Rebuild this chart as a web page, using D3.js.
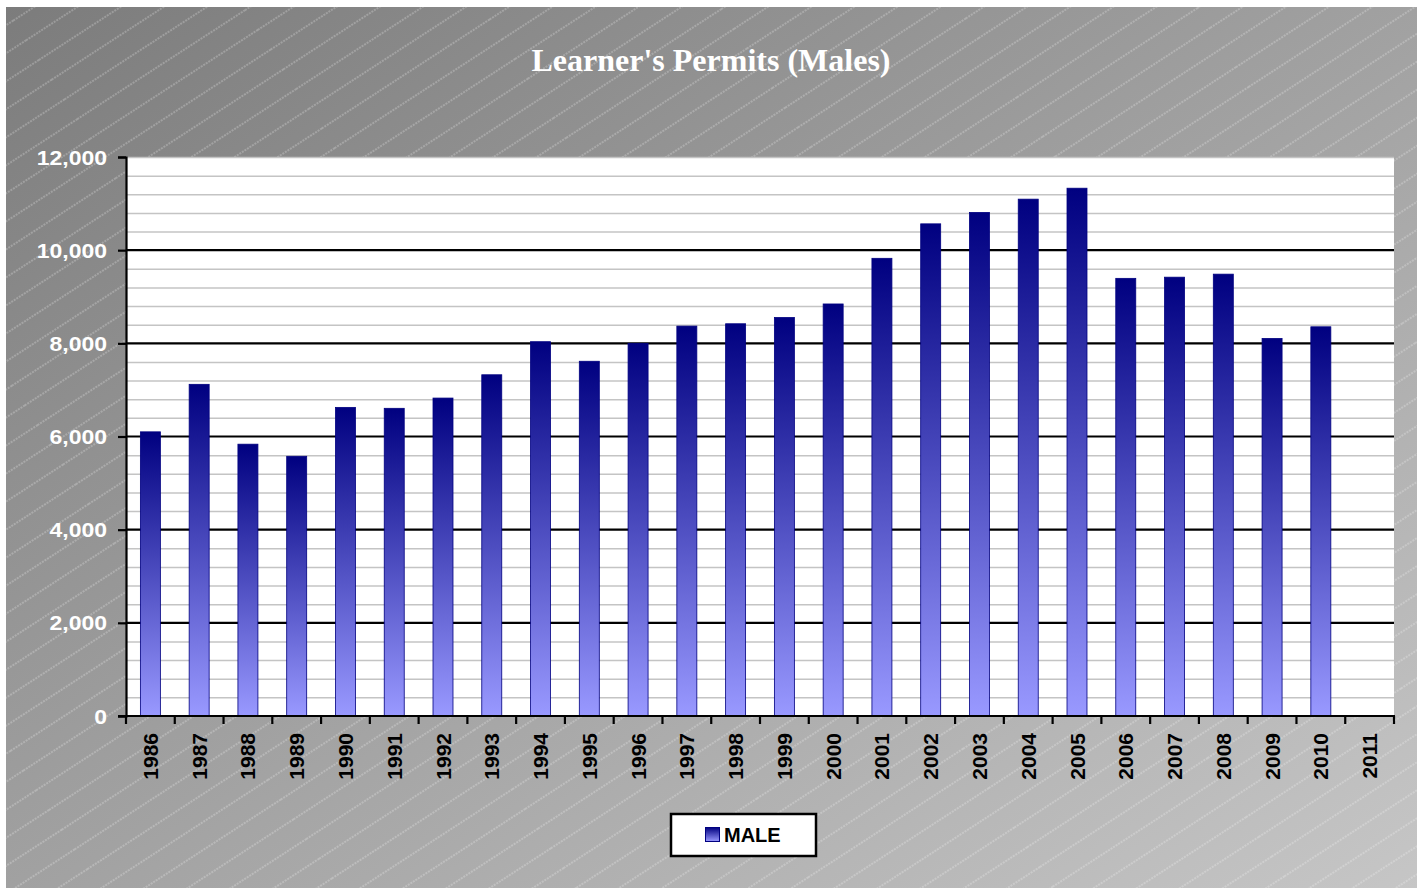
<!DOCTYPE html>
<html>
<head>
<meta charset="utf-8">
<script src="https://cdn.jsdelivr.net/npm/d3@7"></script>
<style>
  body { margin: 0; background: #fff; }
  svg { display: block; }
</style>
</head>
<body>
<script>
var years = ["1986", "1987", "1988", "1989", "1990", "1991", "1992", "1993", "1994",
  "1995", "1996", "1997", "1998", "1999", "2000", "2001", "2002", "2003", "2004",
  "2005", "2006", "2007", "2008", "2009", "2010", "2011"];
var male = [6100, 7120, 5835, 5575, 6625, 6605, 6825, 7325, 8035,
  7615, 8000, 8370, 8420, 8555, 8845, 9825, 10565, 10810, 11095,
  11330, 9395, 9420, 9485, 8105, 8355, null];
var yTicks = [0, 2000, 4000, 6000, 8000, 10000, 12000];
var seriesName = "MALE";
var title = "Learner's Permits (Males)";

var w = 1424, h = 888;
var plotLeft = 126, plotRight = 1394, plotTop = 157, plotBottom = 716;

var svg = d3.select("body").append("svg")
    .attr("width", w)
    .attr("height", h);

var defs = svg.append("defs");

var bg = defs.append("linearGradient")
    .attr("id", "bg")
    .attr("x1", 0).attr("y1", 0).attr("x2", 1).attr("y2", 1);
bg.append("stop").attr("offset", "0%").attr("stop-color", "#7c7c7c");
bg.append("stop").attr("offset", "100%").attr("stop-color", "#c6c6c6");

var pat = defs.append("pattern")
    .attr("id", "hatch")
    .attr("patternUnits", "userSpaceOnUse")
    .attr("width", 200).attr("height", 23.5)
    .attr("patternTransform", "rotate(-33)");
pat.append("line")
    .attr("x1", 0).attr("y1", 1).attr("x2", 200).attr("y2", 1)
    .attr("stroke", "#ffffff")
    .attr("stroke-opacity", 0.45)
    .attr("stroke-width", 1)
    .attr("stroke-dasharray", "2,1");

var barGrad = defs.append("linearGradient")
    .attr("id", "bar")
    .attr("x1", 0).attr("y1", 0).attr("x2", 0).attr("y2", 1);
barGrad.append("stop").attr("offset", "0%").attr("stop-color", "#000080");
barGrad.append("stop").attr("offset", "100%").attr("stop-color", "#9999ff");

// chart background
svg.append("rect")
    .attr("x", 6).attr("y", 7)
    .attr("width", 1411).attr("height", h - 7)
    .attr("fill", "url(#bg)");
svg.append("rect")
    .attr("x", 6).attr("y", 7)
    .attr("width", 1411).attr("height", h - 7)
    .attr("fill", "url(#hatch)");

svg.append("text")
    .attr("x", 711)
    .attr("y", 71)
    .attr("text-anchor", "middle")
    .attr("fill", "#fff")
    .style("font-family", "'Palatino Linotype', 'Book Antiqua', Palatino, 'Liberation Serif', serif")
    .style("font-weight", "bold")
    .style("font-size", "32px")
    .text(title);

var x = d3.scaleBand()
    .domain(years)
    .range([plotLeft, plotRight])
    .paddingInner(0.59)
    .paddingOuter(0.295);

var y = d3.scaleLinear()
    .domain([0, 12000])
    .range([plotBottom, plotTop]);

// plot area
svg.append("rect")
    .attr("x", plotLeft).attr("y", plotTop)
    .attr("width", plotRight - plotLeft).attr("height", plotBottom - plotTop)
    .attr("fill", "#fff");

var minor = d3.range(400, 12001, 400).filter(function(d) { return d % 2000 !== 0; });
svg.append("g").selectAll("line")
    .data(minor.concat([12000]))
  .enter().append("line")
    .attr("x1", plotLeft).attr("x2", plotRight)
    .attr("y1", function(d) { return y(d) + 0.5; })
    .attr("y2", function(d) { return y(d) + 0.5; })
    .attr("stroke", "#c4c4c4")
    .attr("stroke-width", 1.5);

svg.append("g").selectAll("line")
    .data(yTicks.filter(function(d) { return d > 0 && d < 12000; }))
  .enter().append("line")
    .attr("x1", plotLeft).attr("x2", plotRight)
    .attr("y1", function(d) { return y(d); })
    .attr("y2", function(d) { return y(d); })
    .attr("stroke", "#000")
    .attr("stroke-width", 2.2);

// bars
svg.append("g").selectAll("rect")
    .data(years.map(function(d, i) { return {year: d, value: male[i]}; })
      .filter(function(d) { return d.value != null; }))
  .enter().append("rect")
    .attr("x", function(d) { return x(d.year); })
    .attr("y", function(d) { return y(d.value); })
    .attr("width", x.bandwidth())
    .attr("height", function(d) { return plotBottom - y(d.value); })
    .attr("fill", "url(#bar)")
    .attr("stroke", "#000080")
    .attr("stroke-width", 0.8);

// axes
var yAxis = d3.axisLeft(y)
    .tickValues(yTicks)
    .tickSize(8)
    .tickFormat(d3.format(","));
var gy = svg.append("g")
    .attr("transform", "translate(" + plotLeft + ",0)")
    .call(yAxis);
gy.select(".domain").attr("stroke", "#000").attr("stroke-width", 2.2);
gy.selectAll(".tick line").attr("stroke", "#000").attr("stroke-width", 2.2);
gy.selectAll(".tick text")
    .attr("x", 0)
    .attr("dy", "0.35em")
    .attr("fill", "#fff")
    .attr("transform", "translate(-19,0) scale(1.15,1)")
    .style("font-family", "Arial, 'Liberation Sans', sans-serif")
    .style("font-weight", "bold")
    .style("font-size", "20px");

var edges = years.map(function(d) { return x(d) - x.step() * x.paddingInner() / 2; })
    .concat([plotRight]);
svg.append("g").selectAll("line")
    .data(edges)
  .enter().append("line")
    .attr("x1", function(d) { return d; }).attr("x2", function(d) { return d; })
    .attr("y1", plotBottom).attr("y2", plotBottom + 8)
    .attr("stroke", "#000")
    .attr("stroke-width", 2.2);
svg.append("line")
    .attr("x1", plotLeft - 8).attr("x2", plotRight + 1)
    .attr("y1", plotBottom).attr("y2", plotBottom)
    .attr("stroke", "#000")
    .attr("stroke-width", 2.2);

svg.append("g").selectAll("text")
    .data(years)
  .enter().append("text")
    .attr("transform", function(d) {
      return "translate(" + (x(d) + x.bandwidth() / 2) + "," + 733 + ") rotate(-90)";
    })
    .attr("text-anchor", "end")
    .attr("dy", "0.36em")
    .attr("fill", "#000")
    .style("font-family", "Arial, 'Liberation Sans', sans-serif")
    .style("font-weight", "bold")
    .style("font-size", "21px")
    .text(function(d) { return d; });

// legend
var lg = svg.append("g");
lg.append("rect")
    .attr("x", 671).attr("y", 814)
    .attr("width", 145).attr("height", 42)
    .attr("fill", "#fff")
    .attr("stroke", "#000")
    .attr("stroke-width", 2.5);
lg.append("rect")
    .attr("x", 705.5).attr("y", 827.5)
    .attr("width", 14).attr("height", 14)
    .attr("fill", "url(#bar)")
    .attr("stroke", "#000080")
    .attr("stroke-width", 1);
lg.append("text")
    .attr("x", 724)
    .attr("y", 835)
    .attr("dy", "0.36em")
    .attr("fill", "#000")
    .style("font-family", "Arial, 'Liberation Sans', sans-serif")
    .style("font-weight", "bold")
    .style("font-size", "20px")
    .text(seriesName);
</script>
</body>
</html>
